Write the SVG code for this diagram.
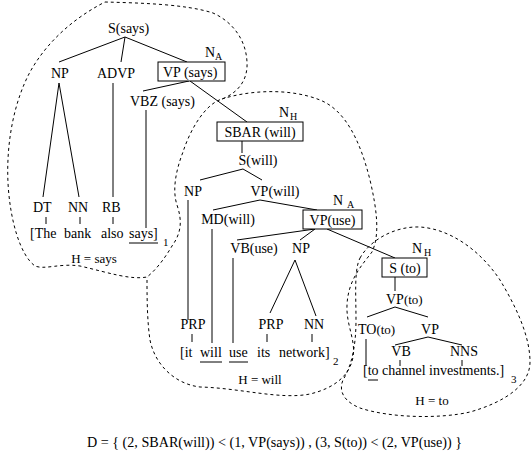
<svg xmlns="http://www.w3.org/2000/svg" width="531" height="456" viewBox="0 0 531 456">
<style>
text{font-family:"Liberation Serif","Times New Roman",serif;font-size:14px;fill:#000}
.m{text-anchor:middle}
.s{font-size:10px}
.h{font-size:13px}
.sub{font-size:11px}
.ln{stroke:#000;stroke-width:1;fill:none}
.box{stroke:#000;stroke-width:1;fill:#fff}
.blob{stroke:#000;stroke-width:1;fill:none;stroke-dasharray:3,3}
</style>
<rect width="531" height="456" fill="#fff"/>
<g id="regions">
<path class="blob" d="M105,2 C140,3 185,4 213,13 C233,22 246,40 247,62 C248,78 240,92 222,99 C205,104 190,130 183,152 C176,170 172,190 177,205 C182,220 182,232 172,246 C165,258 156,270 147,277 C130,280 110,273 80,266 C60,263 45,270 35,266 C20,255 10,220 8,183 C6,140 15,100 30,72 C45,45 70,20 105,2 Z"/>
<path class="blob" d="M222,99 C250,90 290,88 320,100 C345,110 360,140 370,180 C377,210 380,235 372,252 C362,265 348,280 347,305 C346,325 356,340 353,357 C350,375 335,388 310,394 C280,400 240,388 200,387 C175,384 155,365 150,340 C147,320 147,295 147,277"/>
<path class="blob" d="M360,258 C370,240 395,226 420,227 C450,229 480,250 500,280 C515,305 530,335 530,362 C530,385 505,402 470,412 C440,419 390,418 360,408 C345,402 338,392 343,380 C352,365 356,345 356,320 C356,295 354,270 360,258 Z"/>
</g>
<g id="connectors">
<line class="ln" x1="125" y1="37" x2="59" y2="62"/>
<line class="ln" x1="125" y1="37" x2="121" y2="62"/>
<line class="ln" x1="125" y1="37" x2="187" y2="62"/>
<line class="ln" x1="189" y1="81" x2="143" y2="91"/>
<line class="ln" x1="190" y1="81" x2="247" y2="122"/>
<line class="ln" x1="59" y1="83" x2="43" y2="197"/>
<line class="ln" x1="59" y1="83" x2="79" y2="197"/>
<line class="ln" x1="113" y1="83" x2="113" y2="197"/>
<line class="ln" x1="146" y1="110" x2="146" y2="228"/>
<line class="ln" x1="46" y1="217" x2="46" y2="224"/>
<line class="ln" x1="80" y1="217" x2="80" y2="224"/>
<line class="ln" x1="113" y1="217" x2="113" y2="224"/>
<line class="ln" x1="129" y1="243" x2="158" y2="243"/>
<line class="ln" x1="242" y1="141" x2="242" y2="153"/>
<line class="ln" x1="243" y1="169" x2="200" y2="180"/>
<line class="ln" x1="243" y1="169" x2="262" y2="180"/>
<line class="ln" x1="188" y1="200" x2="188" y2="320"/>
<line class="ln" x1="260" y1="200" x2="213" y2="210"/>
<line class="ln" x1="260" y1="200" x2="317" y2="210"/>
<line class="ln" x1="212" y1="229" x2="212" y2="343"/>
<line class="ln" x1="315" y1="229" x2="237" y2="240"/>
<line class="ln" x1="315" y1="229" x2="300" y2="240"/>
<line class="ln" x1="327" y1="229" x2="395" y2="258"/>
<line class="ln" x1="233" y1="258" x2="233" y2="343"/>
<line class="ln" x1="295" y1="260" x2="270" y2="313"/>
<line class="ln" x1="295" y1="260" x2="316" y2="316"/>
<line class="ln" x1="192" y1="334" x2="192" y2="342"/>
<line class="ln" x1="267" y1="334" x2="267" y2="342"/>
<line class="ln" x1="312" y1="334" x2="312" y2="342"/>
<line class="ln" x1="200" y1="362" x2="222" y2="362"/>
<line class="ln" x1="229" y1="362" x2="248" y2="362"/>
<line class="ln" x1="395" y1="277" x2="395" y2="291"/>
<line class="ln" x1="395" y1="307" x2="367" y2="317"/>
<line class="ln" x1="395" y1="307" x2="428" y2="317"/>
<line class="ln" x1="366" y1="339" x2="366" y2="366"/>
<line class="ln" x1="428" y1="337" x2="395" y2="345"/>
<line class="ln" x1="428" y1="337" x2="462" y2="345"/>
<line class="ln" x1="400" y1="360" x2="400" y2="366"/>
<line class="ln" x1="462" y1="360" x2="462" y2="366"/>
<line class="ln" x1="368" y1="380" x2="378" y2="380"/>
</g>
<g id="n-s-says"><text x="108" y="33">S(says)</text></g>
<g id="n-np1"><text x="51" y="78">NP</text></g>
<g id="n-advp"><text x="97" y="78">ADVP</text></g>
<g id="n-vp-says"><rect class="box" x="158" y="62" width="67" height="19"/><text x="163" y="77">VP  (says)</text><text x="205" y="57">N</text><text class="s" x="215" y="60">A</text></g>
<g id="n-vbz"><text x="130" y="106">VBZ (says)</text></g>
<g id="n-dt"><text x="33" y="212">DT</text></g>
<g id="n-nn1"><text x="68" y="212">NN</text></g>
<g id="n-rb"><text x="102" y="212">RB</text></g>
<g id="s1"><text x="30" y="238">[The</text><text x="64" y="238">bank</text><text x="101" y="238">also</text><text x="129" y="238">says]</text><text class="sub" x="163" y="246">1</text><text class="h m" x="94" y="263">H = says</text></g>
<g id="n-sbar"><rect class="box" x="217" y="122" width="86" height="19"/><text class="m" x="260" y="137">SBAR (will)</text><text x="279" y="117">N</text><text class="s" x="290" y="120">H</text></g>
<g id="n-s-will"><text class="m" x="258" y="165">S(will)</text></g>
<g id="n-np2"><text class="m" x="193" y="196">NP</text></g>
<g id="n-vp-will"><text class="m" x="275" y="196">VP(will)</text></g>
<g id="n-md"><text class="m" x="228" y="224">MD(will)</text></g>
<g id="n-vp-use"><rect class="box" x="303" y="210" width="59" height="19"/><text class="m" x="332.5" y="225">VP(use)</text><text x="333" y="205">N</text><text class="s" x="347" y="208">A</text></g>
<g id="n-vb-use"><text class="m" x="254" y="253">VB(use)</text></g>
<g id="n-np3"><text class="m" x="301" y="253">NP</text></g>
<g id="n-prp1"><text class="m" x="193" y="329">PRP</text></g>
<g id="n-prp2"><text class="m" x="271" y="329">PRP</text></g>
<g id="n-nn2"><text class="m" x="314" y="329">NN</text></g>
<g id="s2"><text x="180" y="357">[it</text><text x="200" y="357">will</text><text x="229" y="357">use</text><text x="257" y="357">its</text><text x="279" y="357">network]</text><text class="sub" x="333" y="365">2</text><text class="h m" x="260" y="384">H = will</text></g>
<g id="n-s-to"><rect class="box" x="382" y="258" width="45" height="19"/><text class="m" x="405" y="273">S (to)</text><text x="412" y="253">N</text><text class="s" x="424" y="256">H</text></g>
<g id="n-vp-to"><text x="386" y="304">VP<tspan font-size="13">(to)</tspan></text></g>
<g id="n-to"><text x="358" y="334">TO<tspan font-size="13">(to)</tspan></text></g>
<g id="n-vp4"><text class="m" x="430" y="334">VP</text></g>
<g id="n-vb"><text class="m" x="401" y="356">VB</text></g>
<g id="n-nns"><text class="m" x="464" y="356">NNS</text></g>
<g id="s3"><text x="363" y="375">[to channel investments.]</text><text class="sub" x="511" y="383">3</text><text class="h m" x="432" y="405">H = to</text></g>
<g id="formula"><text x="87" y="447" font-size="12" textLength="375" lengthAdjust="spacingAndGlyphs">D = { (2, SBAR(will)) &lt; (1, VP(says)) , (3, S(to)) &lt; (2, VP(use)) }</text></g>
</svg>
